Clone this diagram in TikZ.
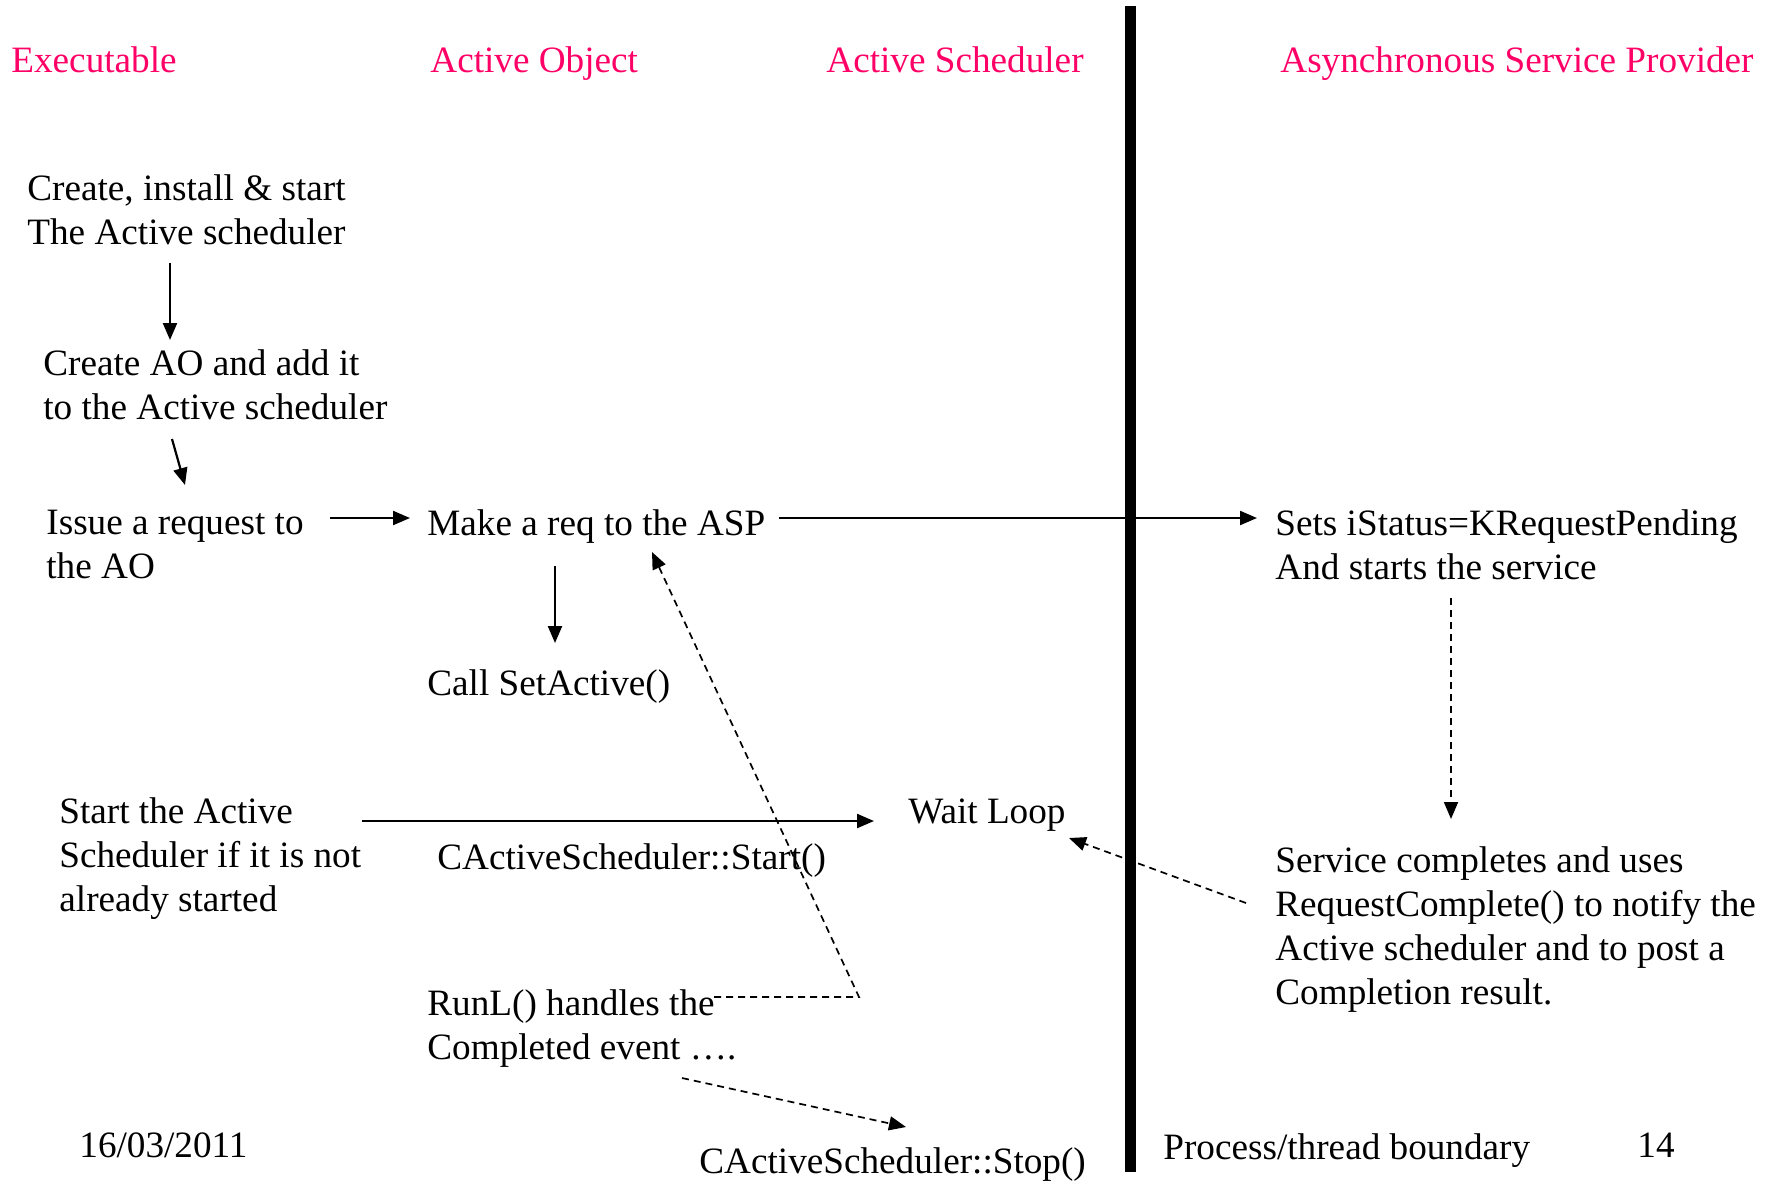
\documentclass[tikz,border=0pt]{standalone}
\usepackage{fontspec}
\setmainfont{Liberation Serif}
\usepackage{xcolor}
\usetikzlibrary{arrows.meta,positioning}
\definecolor{headercolor}{HTML}{FF0066}

\begin{document}
\begin{tikzpicture}[x=0.5pt, y=-0.5pt, >={Triangle[length=8.5pt,width=7pt]},
                    every node/.style={inner sep=0pt, anchor=base west, align=left,
                                       font=\fontsize{18.6}{22}\selectfont},
                    header/.style={text=headercolor},
                    flowarrow/.style={->, line width=1.1pt},
                    asyncarrow/.style={->, line width=0.85pt, dash pattern=on 3.5pt off 2.5pt}]
  \useasboundingbox (0,0) rectangle (1776,1180);
  % column headers
  \node[header] (hexe)   at (11,72)   {Executable};
  \node[header] (hao)    at (430,72)  {Active Object};
  \node[header] (hsched) at (826,72)  {Active Scheduler};
  \node[header] (hasp)   at (1280,72) {Asynchronous Service Provider};
  % process/thread boundary
  \draw[line width=5.5pt] (1130.5,6) -- (1130.5,1172);
  % steps (anchored on the baseline of their last line)
  \node (create)    at (27,244)   {Create, install \& start\\The Active scheduler};
  \node (addao)     at (43,419)   {Create AO and add it\\to the Active scheduler};
  \node (issue)     at (46,578)   {Issue a request to\\the AO};
  \node (makereq)   at (427,535)  {Make a req to the ASP};
  \node (setstatus) at (1275,579) {Sets iStatus=KRequestPending\\And starts the service};
  \node (setactive) at (427,695)  {Call SetActive()};
  \node (startas)   at (59,911)   {Start the Active\\Scheduler if it is not\\already started};
  \node (waitloop)  at (908,823)  {Wait Loop};
  \node (startcall) at (437,869)  {CActiveScheduler::Start()};
  \node (complete)  at (1275,1004) {Service completes and uses\\RequestComplete() to notify the\\Active scheduler and to post a\\Completion result.};
  \node (runl)      at (427,1059) {RunL() handles the\\Completed event \dots.};
  \node (stopcall)  at (699,1173) {CActiveScheduler::Stop()};
  % footer
  \node (date)      at (79,1157)   {16/03/2011};
  \node (boundary)  at (1163,1159) {Process/thread boundary};
  \node (pagenum)   at (1637,1157) {14};
  % connectors
  \draw[flowarrow] (create.base west) ++(143,19) -- ++(0,77);
  \draw[flowarrow] (addao.base west) ++(129,20) -- ++(13,46);
  \draw[flowarrow] (issue.base west) ++(284,-60) -- ++(80,0);
  \draw[flowarrow] (makereq.base west) ++(352,-17) -- ++(478,0);
  \draw[flowarrow] (makereq.base west) ++(128,31) -- ++(0,77);
  \draw[flowarrow] (startas.base west) ++(303,-90) -- ++(512,0);
  \draw[asyncarrow] (setstatus.base west) ++(176,19) -- ++(0,221);
  \draw[asyncarrow] (complete.base west) ++(-29,-101) -- ++(-177,-65);
  \draw[asyncarrow] (runl.base west) ++(287,-62) -- ++(145,0) -- ++(-207,-445);
  \draw[asyncarrow] (runl.base west) ++(255,19) -- ++(224,49);
\end{tikzpicture}
\end{document}
